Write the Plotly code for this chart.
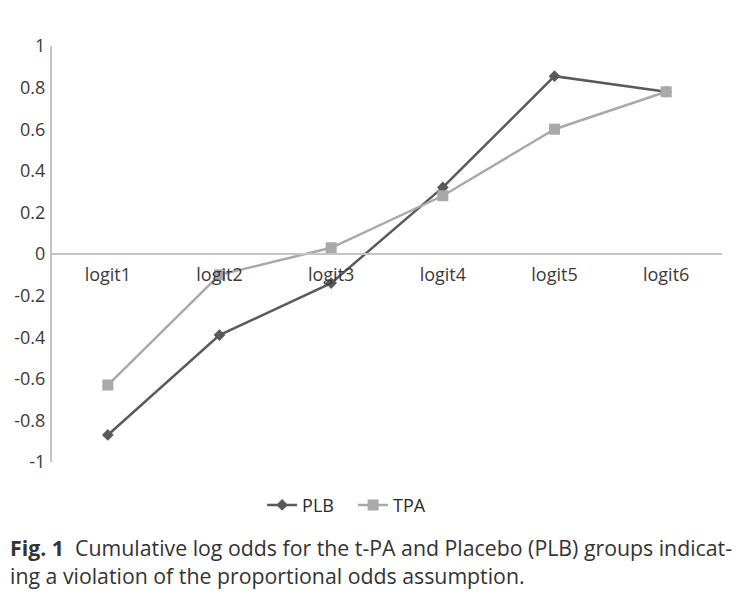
import plotly.graph_objects as go

categories = ["logit1", "logit2", "logit3", "logit4", "logit5", "logit6"]
plb = [-0.87, -0.39, -0.14, 0.32, 0.855, 0.78]
tpa = [-0.63, -0.10, 0.03, 0.28, 0.60, 0.78]
y_ticks = [-1, -0.8, -0.6, -0.4, -0.2, 0, 0.2, 0.4, 0.6, 0.8, 1]

fig = go.Figure()
fig.add_trace(go.Scatter(
    x=categories, y=plb, name="PLB", mode="lines+markers",
    line=dict(color="#5a5a5a", width=2.5),
    marker=dict(symbol="diamond", size=9, color="#5a5a5a"),
))
fig.add_trace(go.Scatter(
    x=categories, y=tpa, name="TPA", mode="lines+markers",
    line=dict(color="#a9a9a9", width=2.5),
    marker=dict(symbol="square", size=11, color="#a9a9a9"),
))

fig.update_layout(
    width=726, height=594,
    margin=dict(l=44, r=12, t=38, b=140, autoexpand=False),
    paper_bgcolor="white", plot_bgcolor="white",
    font=dict(family="Open Sans", color="#3a3a3a", size=18),
    showlegend=True,
    legend=dict(orientation="h", xref="container", yref="container",
                x=0.350, xanchor="left", y=0.163, yanchor="middle",
                entrywidth=46,
                font=dict(size=18, color="#2a2a2a"), tracegroupgap=0),
    xaxis=dict(
        type="category", anchor="free", position=0.5,
        showline=True, linecolor="#c4c4c4", linewidth=2,
        ticks="", showgrid=False, zeroline=False, automargin=False,
        ticklabelstandoff=4,
        tickfont=dict(size=18, color="#3a3a3a"),
        range=[-0.5, 5.5],
    ),
    yaxis=dict(
        range=[-1, 1], tickvals=y_ticks,
        ticktext=[("%g" % v) for v in y_ticks],
        showline=True, linecolor="#c4c4c4", linewidth=2,
        showgrid=False, zeroline=False, ticks="", automargin=False,
        ticklabelstandoff=1,
        tickfont=dict(size=18, color="#3a3a3a"),
    ),
)

fig.add_annotation(
    xref="paper", yref="paper", x=-0.066, y=-0.165, xanchor="left", yanchor="top",
    align="left", showarrow=False,
    text="<b>Fig. 1</b>  Cumulative log odds for the t-PA and Placebo (PLB) groups indicat-<br>ing a violation of the proportional odds assumption.",
    font=dict(family="Open Sans", size=21.3, color="#333333"),
)

fig.write_html("out.html")
